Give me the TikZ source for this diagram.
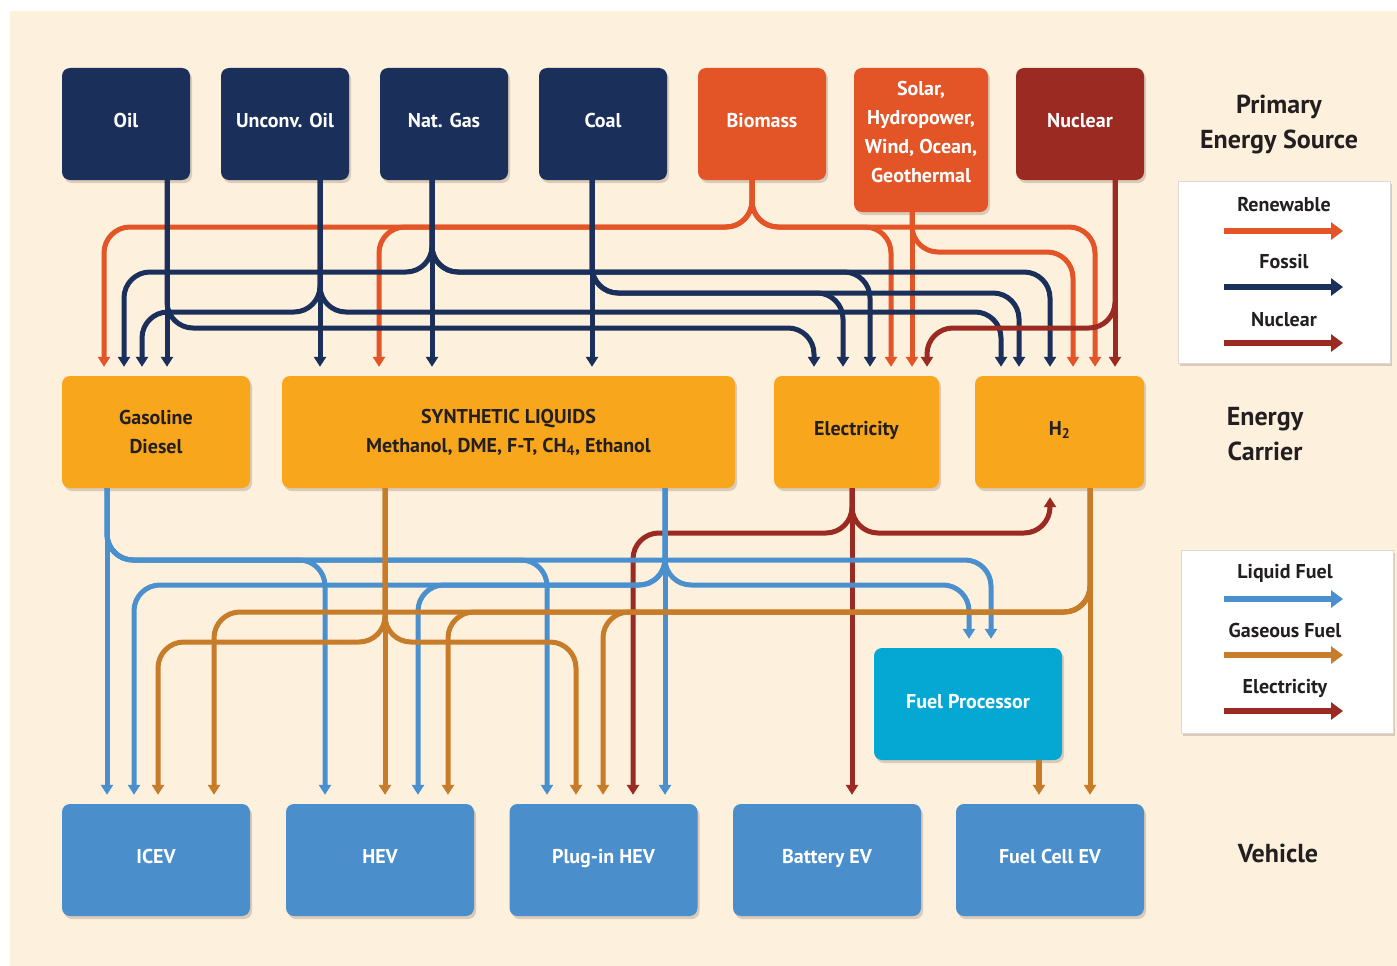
\documentclass[tikz,border=0pt]{standalone}
\usepackage{fontspec}
\setmainfont{PT Sans}
\usetikzlibrary{arrows.meta,shadows}

\definecolor{cream}{HTML}{FDF0DD}
\definecolor{fossil}{HTML}{1A2F5A}
\definecolor{renew}{HTML}{E35426}
\definecolor{nucl}{HTML}{9B2B22}
\definecolor{carrier}{HTML}{F8A61C}
\definecolor{vehicle}{HTML}{4A8ECB}
\definecolor{fproc}{HTML}{05A8D3}
\definecolor{liquid}{HTML}{4A90CE}
\definecolor{gaseous}{HTML}{C77C2A}
\definecolor{elecline}{HTML}{9B2B22}
\definecolor{ink}{HTML}{231F20}
\definecolor{shade}{HTML}{8A7560}

\tikzset{
  box/.style={rounded corners=8pt, inner sep=0pt, align=center,
    minimum width=128pt, minimum height=112pt,
    font=\fontsize{20}{29}\selectfont\bfseries,
    drop shadow={shadow xshift=2pt, shadow yshift=-3pt, opacity=.3, fill=shade}},
  oneline/.style={text height=14pt, text depth=8pt},
  fossilbox/.style={box, oneline, fill=fossil, text=white},
  renewbox/.style={box, fill=renew, text=white},
  nucbox/.style={box, oneline, fill=nucl, text=white},
  carrierbox/.style={box, fill=carrier, text=ink},
  vehiclebox/.style={box, oneline, fill=vehicle, text=white, minimum width=188pt},
  fpbox/.style={box, fill=fproc, text=white, minimum width=188pt,
    text height=14pt, text depth=6pt},
  legendbox/.style={fill=white, draw=black!15, line width=1pt,
    drop shadow={shadow xshift=2pt, shadow yshift=-3pt, opacity=.3, fill=shade}},
  legtext/.style={text=ink, font=\fontsize{20}{24}\selectfont\bfseries},
  sidetext/.style={text=ink, align=center, font=\fontsize{26}{35}\selectfont\bfseries},
  flow/.style={line width=5pt, rounded corners=26pt, shorten >=9pt,
    -{Triangle[width=12pt,length=10pt]}},
  fossilline/.style={flow, draw=fossil, fossil},
  renewline/.style={flow, draw=renew, renew},
  nucline/.style={flow, draw=nucl, nucl},
  liquidline/.style={flow, draw=liquid, liquid},
  gasline/.style={flow, draw=gaseous, gaseous},
  elline/.style={flow, draw=elecline, elecline},
  legline/.style={line width=6pt, -{Triangle[width=17pt,length=12pt]}}
}

\begin{document}
\begin{tikzpicture}[x=1pt, y=-1pt]
\useasboundingbox (0,0) rectangle (1397,966);
\fill[white] (0,0) rectangle (1397,966);
\fill[cream] (10,11) rectangle (1397,966);

% primary sources
\node[fossilbox] (oil) at (126,124) {Oil};
\node[fossilbox] (unc) at (285,124) {Unconv. Oil};
\node[fossilbox] (ng) at (444,124) {Nat. Gas};
\node[fossilbox] (coal) at (603,124) {Coal};
\node[renewbox, oneline] (bio) at (762,124) {Biomass};
\node[renewbox, minimum width=134pt, minimum height=144pt] (solar) at (921,140)
  {Solar,\\Hydropower,\\Wind, Ocean,\\Geothermal\\[-13pt]\mbox{}};
\node[nucbox] (nuc) at (1080,124) {Nuclear};

% energy carriers
\node[carrierbox, minimum width=188pt] (gasdie) at (156,432) {Gasoline\\Diesel};
\node[carrierbox, minimum width=453pt] (syn) at (508.5,432)
  {SYNTHETIC LIQUIDS\\Methanol, DME, F-T, CH\textsubscript{4}, Ethanol};
\node[carrierbox, oneline, minimum width=165pt] (elec) at (856.5,432) {Electricity};
\node[carrierbox, oneline, minimum width=169pt] (htwo) at (1059.5,432) {H\textsubscript{2}};

\node[fpbox] (fp) at (968,704) {Fuel Processor};

% vehicles
\node[vehiclebox] (icev) at (156,860) {ICEV};
\node[vehiclebox] (hev) at (380,860) {HEV};
\node[vehiclebox] (phev) at (603.5,860) {Plug-in HEV};
\node[vehiclebox] (bev) at (827,860) {Battery EV};
\node[vehiclebox] (fcev) at (1050,860) {Fuel Cell EV};

% sources -> carriers
\draw[renewline] (bio.south -| 752,0) |- (104,227) -- (gasdie.north -| 104,0);
\draw[renewline] (bio.south -| 752,0) |- (379,227) -- (syn.north -| 379,0);
\draw[renewline] (bio.south -| 752,0) |- (891,227) -- (elec.north -| 891,0);
\draw[renewline] (bio.south -| 752,0) |- (1095,227) -- (htwo.north -| 1095,0);
\draw[renewline] (solar.south -| 912,0) -- (elec.north -| 912,0);
\draw[renewline] (solar.south -| 912,0) |- (1073,252) -- (htwo.north -| 1073,0);

\draw[fossilline] (ng.south -| 432,0) -- (syn.north -| 432,0);
\draw[fossilline] (ng.south -| 432,0) |- (124,272) -- (gasdie.north -| 124,0);
\draw[fossilline] (ng.south -| 432,0) |- (870,272) -- (elec.north -| 870,0);
\draw[fossilline] (ng.south -| 432,0) |- (1050,272) -- (htwo.north -| 1050,0);

\draw[fossilline] (coal.south -| 592,0) -- (syn.north -| 592,0);
\draw[fossilline] (coal.south -| 592,0) |- (843,293) -- (elec.north -| 843,0);
\draw[fossilline] (coal.south -| 592,0) |- (1019,293) -- (htwo.north -| 1019,0);

\draw[fossilline] (unc.south -| 320,0) -- (syn.north -| 320,0);
\draw[fossilline] (unc.south -| 320,0) |- (142,312) -- (gasdie.north -| 142,0);
\draw[fossilline] (unc.south -| 320,0) |- (1001,312) -- (htwo.north -| 1001,0);

\draw[fossilline] (oil.south -| 167,0) -- (gasdie.north -| 167,0);
\draw[fossilline] (oil.south -| 167,0) |- (814,328) -- (elec.north -| 814,0);

\draw[nucline] (nuc.south -| 1115,0) -- (htwo.north -| 1115,0);
\draw[nucline] (nuc.south -| 1115,0) |- (927,328) -- (elec.north -| 927,0);

% carriers -> vehicles
\draw[elline] (elec.south -| 852,0) -- (bev.north -| 852,0);
\draw[elline] (elec.south -| 852,0) |- (633,533) -- (phev.north -| 633,0);
\draw[elline] (elec.south -| 852,0) |- (1050,533) -- (htwo.south -| 1050,0);

\draw[liquidline] (gasdie.south -| 107,0) -- (icev.north -| 107,0);
\draw[liquidline] (gasdie.south -| 107,0) |- (325,560) -- (hev.north -| 325,0);
\draw[liquidline] (gasdie.south -| 107,0) |- (547,560) -- (phev.north -| 547,0);
\draw[liquidline] (gasdie.south -| 107,0) |- (991,560) -- (fp.north -| 991,0);

\draw[liquidline] (syn.south -| 665,0) -- (phev.north -| 665,0);
\draw[liquidline] (syn.south -| 665,0) |- (418,585) -- (hev.north -| 418,0);
\draw[liquidline] (syn.south -| 665,0) |- (134,585) -- (icev.north -| 134,0);
\draw[liquidline] (syn.south -| 665,0) |- (969,585) -- (fp.north -| 969,0);

\draw[gasline] (htwo.south -| 1090,0) -- (fcev.north -| 1090,0);
\draw[gasline] (htwo.south -| 1090,0) |- (603,612) -- (phev.north -| 603,0);
\draw[gasline] (htwo.south -| 1090,0) |- (448,612) -- (hev.north -| 448,0);
\draw[gasline] (htwo.south -| 1090,0) |- (214,612) -- (icev.north -| 214,0);

\draw[gasline] (syn.south -| 385,0) -- (hev.north -| 385,0);
\draw[gasline] (syn.south -| 385,0) |- (158,642) -- (icev.north -| 158,0);
\draw[gasline] (syn.south -| 385,0) |- (576,642) -- (phev.north -| 576,0);

\draw[gasline, line width=6pt] (fp.south -| 1039,0) -- (fcev.north -| 1039,0);

% side labels
\node[sidetext] (lprim) at (1279,125) {Primary\\Energy Source};
\node[sidetext] (lcarr) at (1265,434) {Energy\\Carrier};
\node[sidetext] (lveh) at (1278,853) {Vehicle};

% legends
\fill[legendbox] (1178,181) rectangle (1390,363);
\node[legtext] (kren) at (1284,205) {Renewable};
\draw[legline, renew] (1224,231) -- (1343,231);
\node[legtext] (kfos) at (1284,262) {Fossil};
\draw[legline, fossil] (1224,287) -- (1343,287);
\node[legtext] (knuc) at (1284,320) {Nuclear};
\draw[legline, nucl] (1224,343) -- (1343,343);

\fill[legendbox] (1181,550) rectangle (1393,733);
\node[legtext] (kliq) at (1285,573) {Liquid Fuel};
\draw[legline, liquid] (1224,599) -- (1343,599);
\node[legtext] (kgas) at (1285,630) {Gaseous Fuel};
\draw[legline, gaseous] (1224,655) -- (1343,655);
\node[legtext] (kele) at (1285,688) {Electricity};
\draw[legline, elecline] (1224,711) -- (1343,711);
\end{tikzpicture}
\end{document}
